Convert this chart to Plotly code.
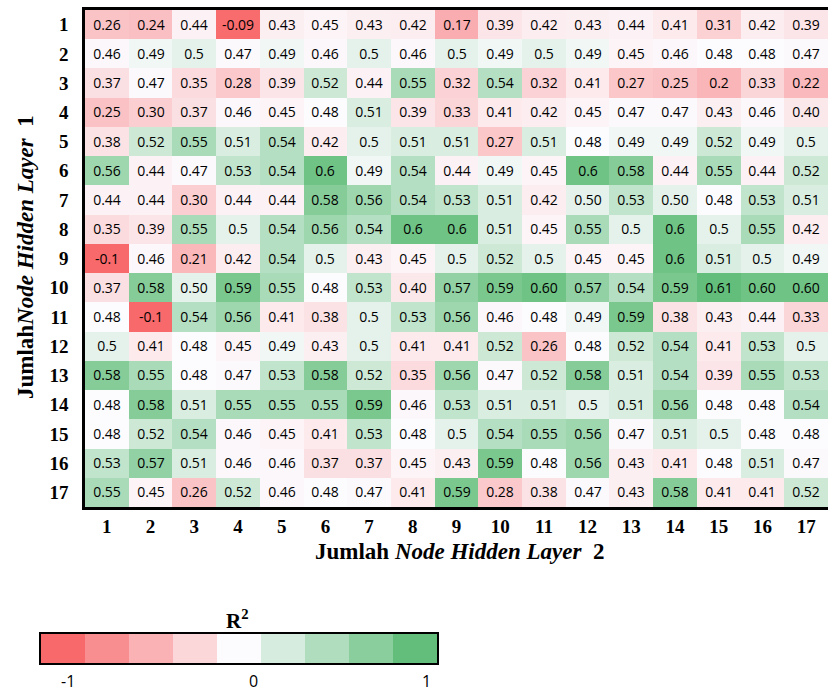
import numpy as np
import plotly.graph_objects as go

# R^2 for each combination of hidden-layer node counts (row = layer 1, column = layer 2)
nodes_layer1 = list(range(1, 18))
nodes_layer2 = list(range(1, 18))

r2_labels = [
    ["0.26", "0.24", "0.44", "-0.09", "0.43", "0.45", "0.43", "0.42", "0.17", "0.39", "0.42", "0.43", "0.44", "0.41", "0.31", "0.42", "0.39"],
    ["0.46", "0.49", "0.5", "0.47", "0.49", "0.46", "0.5", "0.46", "0.5", "0.49", "0.5", "0.49", "0.45", "0.46", "0.48", "0.48", "0.47"],
    ["0.37", "0.47", "0.35", "0.28", "0.39", "0.52", "0.44", "0.55", "0.32", "0.54", "0.32", "0.41", "0.27", "0.25", "0.2", "0.33", "0.22"],
    ["0.25", "0.30", "0.37", "0.46", "0.45", "0.48", "0.51", "0.39", "0.33", "0.41", "0.42", "0.45", "0.47", "0.47", "0.43", "0.46", "0.40"],
    ["0.38", "0.52", "0.55", "0.51", "0.54", "0.42", "0.5", "0.51", "0.51", "0.27", "0.51", "0.48", "0.49", "0.49", "0.52", "0.49", "0.5"],
    ["0.56", "0.44", "0.47", "0.53", "0.54", "0.6", "0.49", "0.54", "0.44", "0.49", "0.45", "0.6", "0.58", "0.44", "0.55", "0.44", "0.52"],
    ["0.44", "0.44", "0.30", "0.44", "0.44", "0.58", "0.56", "0.54", "0.53", "0.51", "0.42", "0.50", "0.53", "0.50", "0.48", "0.53", "0.51"],
    ["0.35", "0.39", "0.55", "0.5", "0.54", "0.56", "0.54", "0.6", "0.6", "0.51", "0.45", "0.55", "0.5", "0.6", "0.5", "0.55", "0.42"],
    ["-0.1", "0.46", "0.21", "0.42", "0.54", "0.5", "0.43", "0.45", "0.5", "0.52", "0.5", "0.45", "0.45", "0.6", "0.51", "0.5", "0.49"],
    ["0.37", "0.58", "0.50", "0.59", "0.55", "0.48", "0.53", "0.40", "0.57", "0.59", "0.60", "0.57", "0.54", "0.59", "0.61", "0.60", "0.60"],
    ["0.48", "-0.1", "0.54", "0.56", "0.41", "0.38", "0.5", "0.53", "0.56", "0.46", "0.48", "0.49", "0.59", "0.38", "0.43", "0.44", "0.33"],
    ["0.5", "0.41", "0.48", "0.45", "0.49", "0.43", "0.5", "0.41", "0.41", "0.52", "0.26", "0.48", "0.52", "0.54", "0.41", "0.53", "0.5"],
    ["0.58", "0.55", "0.48", "0.47", "0.53", "0.58", "0.52", "0.35", "0.56", "0.47", "0.52", "0.58", "0.51", "0.54", "0.39", "0.55", "0.53"],
    ["0.48", "0.58", "0.51", "0.55", "0.55", "0.55", "0.59", "0.46", "0.53", "0.51", "0.51", "0.5", "0.51", "0.56", "0.48", "0.48", "0.54"],
    ["0.48", "0.52", "0.54", "0.46", "0.45", "0.41", "0.53", "0.48", "0.5", "0.54", "0.55", "0.56", "0.47", "0.51", "0.5", "0.48", "0.48"],
    ["0.53", "0.57", "0.51", "0.46", "0.46", "0.37", "0.37", "0.45", "0.43", "0.59", "0.48", "0.56", "0.43", "0.41", "0.48", "0.51", "0.47"],
    ["0.55", "0.45", "0.26", "0.52", "0.46", "0.48", "0.47", "0.41", "0.59", "0.28", "0.38", "0.47", "0.43", "0.58", "0.41", "0.41", "0.52"],
]

legend_ticks = ["-1", "0", "1"]

# numeric values come straight from the printed labels
r2 = np.array([[float(v) for v in row] for row in r2_labels])

# three-colour scale: red (min) -> white (median) -> green (max)
RED = (248, 105, 107)
WHITE = (252, 252, 255)
GREEN = (99, 190, 123)


def rgb(c):
    return "rgb({},{},{})".format(*[int(round(v)) for v in c])


def mix(a, b, t):
    return tuple(a[i] + (b[i] - a[i]) * t for i in range(3))


zmin, zmax = r2.min(), r2.max()
zmid = float(np.median(r2))
mid_pos = (zmid - zmin) / (zmax - zmin)
main_scale = [[0.0, rgb(RED)], [mid_pos, rgb(WHITE)], [1.0, rgb(GREEN)]]

# nine-step legend strip
legend_colors = [rgb(mix(RED, WHITE, i / 4)) for i in range(4)] + \
                [rgb(mix(WHITE, GREEN, i / 4)) for i in range(5)]
legend_steps = list(range(len(legend_colors)))
legend_scale = [[i / (len(legend_colors) - 1), c] for i, c in enumerate(legend_colors)]

W, H = 828, 691
SERIF = "Liberation Serif"

fig = go.Figure()

fig.add_trace(go.Heatmap(
    z=r2, x=nodes_layer2, y=nodes_layer1,
    text=r2_labels, texttemplate="%{text}",
    textfont=dict(family="Open Sans", size=14, color="black"),
    colorscale=main_scale, zmin=zmin, zmax=zmax,
    showscale=False, xgap=0, ygap=0,
    hovertemplate="Layer 1: %{y}<br>Layer 2: %{x}<br>R²: %{text}<extra></extra>",
))

fig.add_trace(go.Heatmap(
    z=[legend_steps], x=legend_steps, y=[0],
    colorscale=legend_scale, zmin=0, zmax=len(legend_colors) - 1,
    showscale=False, xaxis="x2", yaxis="y2", hoverinfo="skip",
))

tick_font = dict(family=SERIF, size=19, color="black", weight="bold")

fig.update_layout(
    width=W, height=H,
    margin=dict(l=0, r=0, t=0, b=0),
    paper_bgcolor="white", plot_bgcolor="white",
    xaxis=dict(
        domain=[85 / W, 1.0], range=[0.5, 17.5],
        tickvals=nodes_layer2, ticktext=[str(v) for v in nodes_layer2],
        tickfont=tick_font, ticks="", ticklabelstandoff=0,
        showline=True, linecolor="black", linewidth=2.5, mirror=True,
        showgrid=False, zeroline=False, anchor="y",
    ),
    yaxis=dict(
        domain=[(H - 507) / H, (H - 10) / H], range=[17.5, 0.5],
        tickvals=nodes_layer1, ticktext=[str(v) for v in nodes_layer1],
        tickfont=tick_font, ticks="", ticklabelstandoff=10,
        showline=True, linecolor="black", linewidth=2.5, mirror=False,
        showgrid=False, zeroline=False, anchor="x",
    ),
    xaxis2=dict(
        domain=[41 / W, 437 / W], range=[-0.5, 8.5],
        showticklabels=False, ticks="", showgrid=False, zeroline=False,
        showline=True, linecolor="black", linewidth=2, mirror=True, anchor="y2",
    ),
    yaxis2=dict(
        domain=[(H - 663) / H, (H - 634) / H], range=[-0.5, 0.5],
        showticklabels=False, ticks="", showgrid=False, zeroline=False,
        showline=True, linecolor="black", linewidth=2, mirror=True, anchor="x2",
    ),
)

annotations = [
    dict(text="<b>Jumlah<i>Node Hidden Layer</i>\u00a0\u00a01</b>",
         x=25 / W, y=(H - 257) / H, textangle=-90,
         font=dict(family=SERIF, size=23, color="black")),
    dict(text="<b>Jumlah <i>Node Hidden Layer</i>\u00a0\u00a02</b>",
         x=459 / W, y=(H - 551) / H,
         font=dict(family=SERIF, size=23, color="black")),
    dict(text="<b>R<sup>2</sup></b>",
         x=237 / W, y=(H - 619) / H,
         font=dict(family=SERIF, size=21, color="black")),
]
for label, px in zip(legend_ticks, [68, 253, 427]):
    annotations.append(dict(text=label, x=px / W, y=(H - 681) / H,
                            font=dict(family="Open Sans", size=16, color="black")))

for a in annotations:
    a.update(xref="paper", yref="paper", showarrow=False,
             xanchor="center", yanchor="middle")
fig.update_layout(annotations=annotations)

fig.write_html("out.html")
